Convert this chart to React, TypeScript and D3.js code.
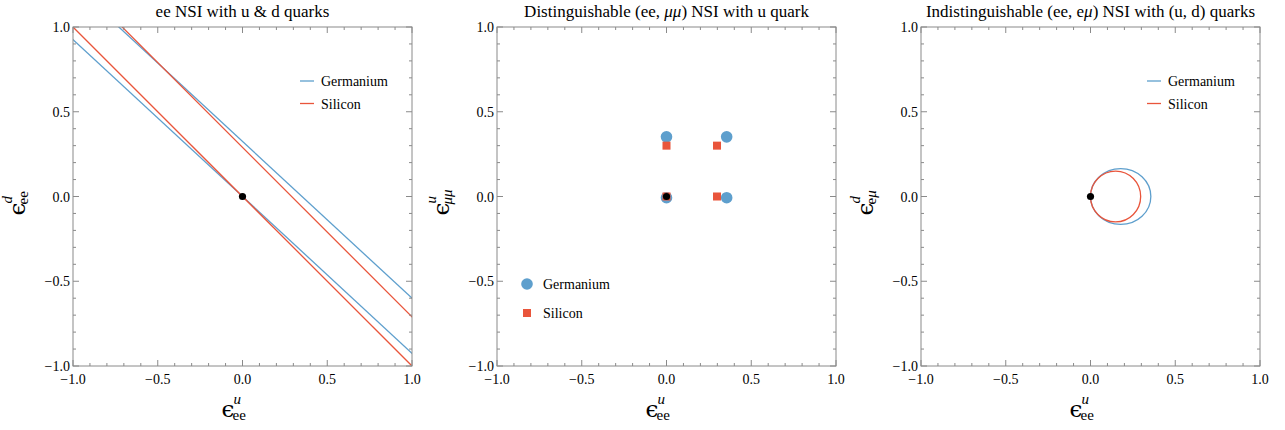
import React from "react";
import * as d3 from "d3";

const panelTitles = [
  "ee NSI with u & d quarks",
  "Distinguishable (ee, μμ) NSI with u quark",
  "Indistinguishable (ee, eμ) NSI with (u, d) quarks",
];
const titleItalicPart = ["", "μμ", "μ)"];
const yLabelSup = ["d", "u", "d"];
const yLabelSub = ["ee", "μμ", "eμ"];
const xLabelSup = "u";
const xLabelSub = "ee";
const majorTicks = [-1, -0.5, 0, 0.5, 1];
const tickLabels = ["−1.0", "−0.5", "0.0", "0.5", "1.0"];
const minorTicks = d3.range(-10, 11).map((i) => i / 10);
const seriesNames = ["Germanium", "Silicon"];

// Panel 1: straight-line solutions (slope, intercept)
const geLineSlopes = [-0.925, -0.925];
const geLineIntercepts = [0, 0.325];
const siLineSlopes = [-1, -1];
const siLineIntercepts = [0, 0.29];

// Panel 2: discrete solutions
const gePointsX = [0, 0.355, 0, 0.355];
const gePointsY = [0.352, 0.352, -0.007, -0.007];
const siPointsX = [0, 0.298, 0, 0.298];
const siPointsY = [0.3, 0.3, 0.0, 0.0];

// Panel 3: closed contours (center x, center y, radius x, radius y)
const geEllipse = [0.178, 0, 0.178, 0.165];
const siEllipse = [0.148, 0, 0.148, 0.15];

const BLUE = "#5e9fcd";
const RED = "#e9553b";
const FRAME = "#8a8a8a";
const FONT = "'Liberation Serif', 'Times New Roman', serif";
const EPS_FONT = "'DejaVu Serif', serif";

const panelLefts = [73, 497, 921];
const TOP = 27;
const PW = 339;
const PH = 339;

function Frame({ x, y }: { x: d3.ScaleLinear<number, number>; y: d3.ScaleLinear<number, number> }) {
  const [x0, x1] = x.range();
  const [y0, y1] = y.range();
  const els: React.ReactNode[] = [];
  minorTicks.forEach((t, i) => {
    const major = Math.abs(t * 2 - Math.round(t * 2)) < 1e-6;
    const L = major ? 6 : 3;
    const xp = x(t);
    const yp = y(t);
    els.push(<line key={"b" + i} x1={xp} x2={xp} y1={y0} y2={y0 - L} stroke={FRAME} />);
    els.push(<line key={"t" + i} x1={xp} x2={xp} y1={y1} y2={y1 + L} stroke={FRAME} />);
    els.push(<line key={"l" + i} x1={x0} x2={x0 + L} y1={yp} y2={yp} stroke={FRAME} />);
    els.push(<line key={"r" + i} x1={x1} x2={x1 - L} y1={yp} y2={yp} stroke={FRAME} />);
  });
  return (
    <g>
      <rect x={x0} y={y1} width={x1 - x0} height={y0 - y1} fill="none" stroke={FRAME} strokeWidth={1} />
      {els}
      {majorTicks.map((t, i) => (
        <text key={"xl" + i} x={x(t)} y={y0 + 18} textAnchor="middle" fontSize={14} style={{ fontFamily: FONT }}>
          {tickLabels[i]}
        </text>
      ))}
      {majorTicks.map((t, i) => (
        <text key={"yl" + i} x={x0 - 3} y={y(t) + 5} textAnchor="end" fontSize={14} style={{ fontFamily: FONT }}>
          {tickLabels[i]}
        </text>
      ))}
    </g>
  );
}

function Panel({ idx }: { idx: number }) {
  const left = panelLefts[idx];
  const x = d3.scaleLinear().domain([-1, 1]).range([left, left + PW]);
  const y = d3.scaleLinear().domain([-1, 1]).range([TOP + PH, TOP]);
  const cx = (left + left + PW) / 2;
  const clipId = "clip" + idx;
  const title = panelTitles[idx];
  const it = titleItalicPart[idx];
  let titleNode: React.ReactNode = title;
  if (it) {
    const k = title.indexOf(it);
    const itText = it.replace(")", "");
    titleNode = (
      <>
        {title.slice(0, k)}
        <tspan fontStyle="italic">{itText}</tspan>
        {title.slice(k + itText.length)}
      </>
    );
  }
  const content: React.ReactNode[] = [];
  if (idx === 0) {
    const line = d3.line<number[]>().x((v) => x(v[0])).y((v) => y(v[1]));
    const drawLines = (slopes: number[], ints: number[], color: string, key: string) =>
      slopes.map((s, i) => {
        const pts = [-1.2, 1.2].map((xv) => [xv, ints[i] + s * xv]);
        return <path key={key + i} d={line(pts) as string} fill="none" stroke={color} strokeWidth={1.3} />;
      });
    content.push(...drawLines(geLineSlopes, geLineIntercepts, BLUE, "ge"));
    content.push(...drawLines(siLineSlopes, siLineIntercepts, RED, "si"));
  } else if (idx === 1) {
    gePointsX.forEach((xv, i) =>
      content.push(<circle key={"gp" + i} cx={x(xv)} cy={y(gePointsY[i])} r={5.8} fill={BLUE} />)
    );
    siPointsX.forEach((xv, i) =>
      content.push(
        <rect key={"sp" + i} x={x(xv) - 4} y={y(siPointsY[i]) - 4} width={8} height={8} fill={RED} />
      )
    );
  } else {
    const ell = (p: number[], color: string, key: string) => (
      <ellipse
        key={key}
        cx={x(p[0])}
        cy={y(p[1])}
        rx={x(p[2]) - x(0)}
        ry={y(0) - y(p[3])}
        fill="none"
        stroke={color}
        strokeWidth={1.3}
      />
    );
    content.push(ell(geEllipse, BLUE, "ge"));
    content.push(ell(siEllipse, RED, "si"));
  }
  content.push(<circle key="origin" cx={x(0)} cy={y(0)} r={3.6} fill="#000" />);

  let legend: React.ReactNode = null;
  if (idx === 1) {
    legend = (
      <g fontSize={14} style={{ fontFamily: FONT }}>
        <circle cx={left + 30} cy={284} r={5.8} fill={BLUE} />
        <text x={left + 46} y={289}>{seriesNames[0]}</text>
        <rect x={left + 26} y={309} width={8} height={8} fill={RED} />
        <text x={left + 46} y={318}>{seriesNames[1]}</text>
      </g>
    );
  } else {
    const lx = idx === 0 ? 300 : 1147;
    legend = (
      <g fontSize={14} style={{ fontFamily: FONT }}>
        <line x1={lx} x2={lx + 14} y1={81} y2={81} stroke={BLUE} strokeWidth={1.3} />
        <text x={lx + 21} y={86}>{seriesNames[0]}</text>
        <line x1={lx} x2={lx + 14} y1={103.5} y2={103.5} stroke={RED} strokeWidth={1.3} />
        <text x={lx + 21} y={108.5}>{seriesNames[1]}</text>
      </g>
    );
  }

  const sub = yLabelSub[idx];
  const subNode =
    idx === 0 ? (
      sub
    ) : idx === 1 ? (
      <tspan fontStyle="italic">{sub}</tspan>
    ) : (
      <>
        {sub[0]}
        <tspan fontStyle="italic">{sub.slice(1)}</tspan>
      </>
    );

  const yMid = TOP + PH / 2;
  return (
    <g>
      <defs>
        <clipPath id={clipId}>
          <rect x={left} y={TOP} width={PW} height={PH} />
        </clipPath>
      </defs>
      <text x={cx} y={17} textAnchor="middle" fontSize={17} style={{ fontFamily: FONT }}>
        {titleNode}
      </text>
      <g clipPath={`url(#${clipId})`}>{content}</g>
      <Frame x={x} y={y} />
      {legend}
      <g style={{ fontFamily: FONT }}>
        <text x={cx - 21} y={417} fontSize={23} style={{ fontFamily: EPS_FONT }}>ϵ</text>
        <text x={cx - 9} y={404} fontSize={15} fontStyle="italic">{xLabelSup}</text>
        <text x={cx - 10} y={420} fontSize={15}>{xLabelSub}</text>
      </g>
      <g style={{ fontFamily: FONT }} transform={`translate(${left - 48},${yMid}) rotate(-90)`}>
        <text x={-19} y={0} fontSize={23} style={{ fontFamily: EPS_FONT }}>ϵ</text>
        <text x={-7} y={-13} fontSize={15} fontStyle="italic">{yLabelSup[idx]}</text>
        <text x={-8} y={3} fontSize={15}>{subNode}</text>
      </g>
    </g>
  );
}

export default function App() {
  return (
    <svg
      width={1285}
      height={430}
      style={{ position: "absolute", left: 0, top: 0, background: "#fff" }}
    >
      <rect width={1285} height={430} fill="#fff" />
      {[0, 1, 2].map((i) => (
        <Panel key={i} idx={i} />
      ))}
    </svg>
  );
}
